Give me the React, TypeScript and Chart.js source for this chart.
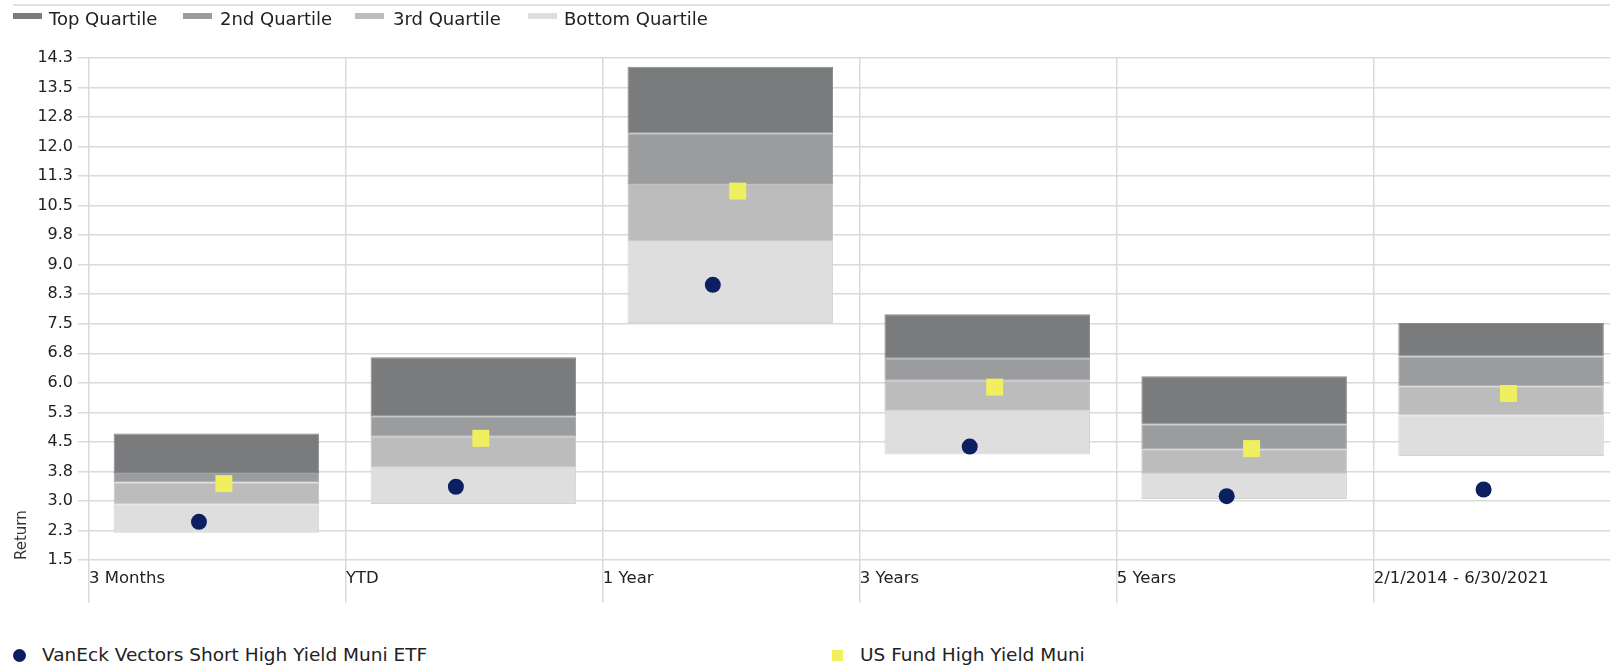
import React, { useEffect, useRef } from 'react';
import { Chart, registerables } from 'chart.js';

Chart.register(...registerables);

// ---- data ----
const categories = ['3 Months', 'YTD', '1 Year', '3 Years', '5 Years', '2/1/2014 - 6/30/2021'];
const quartileMin = [2.19, 2.92, 7.52, 4.18, 3.05, 4.14];
const quartile25 = [2.91, 3.84, 9.58, 5.31, 3.71, 5.17];
const quartileMedian = [3.47, 4.63, 11.05, 6.05, 4.31, 5.91];
const quartile75 = [3.71, 5.15, 12.34, 6.61, 4.94, 6.67];
const quartileMax = [4.71, 6.65, 14.03, 7.74, 6.17, 7.52];
const etfReturns = [2.47, 3.36, 8.49, 4.38, 3.12, 3.29];
const categoryReturns = [3.44, 4.59, 10.87, 5.89, 4.33, 5.73];
const yTickValues = [1.5, 2.25, 3, 3.75, 4.5, 5.25, 6, 6.75, 7.5, 8.25, 9, 9.75, 10.5, 11.25, 12, 12.75, 13.5, 14.25];
const yTickLabels = ['1.5', '2.3', '3.0', '3.8', '4.5', '5.3', '6.0', '6.8', '7.5', '8.3', '9.0', '9.8', '10.5', '11.3', '12.0', '12.8', '13.5', '14.3'];
const quartileNames = ['Top Quartile', '2nd Quartile', '3rd Quartile', 'Bottom Quartile'];
const etfName = 'VanEck Vectors Short High Yield Muni ETF';
const categoryName = 'US Fund High Yield Muni';
const yTitle = 'Return';

// ---- styles ----
const quartileColors = ['#7a7b7d', '#9b9c9e', '#bcbcbc', '#dedede'];
const quartileBorders = ['#87888a', '#a3a4a6', '#c3c3c3', '#d3d3d3'];
const dotColor = '#0b1f61';
const squareColor = '#f0ef5f';
const gridColor = '#dadada';
const textColor = '#222222';
const FONT = '"DejaVu Sans", Verdana, sans-serif';
const CANVAS_W = 1610;
const CANVAS_H = 620;
const X_MAX = 5.92;
const BAR_CENTER = 0.496;
const DOT_CENTER = 0.428;
const SQUARE_CENTER = 0.525;
const topLegendBoxX = [13, 183, 355, 528];
const topLegendTextX = [49, 220, 393, 564];

export default function App() {
  const ref = useRef<HTMLCanvasElement>(null);

  useEffect(() => {
    const canvas = ref.current;
    if (!canvas) return;
    const ranges = [
      [quartile75, quartileMax],
      [quartileMedian, quartile75],
      [quartile25, quartileMedian],
      [quartileMin, quartile25],
    ];
    const barDatasets: any[] = quartileNames.map((name, k) => ({
      type: 'bar',
      label: name,
      data: categories.map((_, i) => ({ x: i + BAR_CENTER, y: [ranges[k][0][i], ranges[k][1][i]] })),
      backgroundColor: quartileColors[k],
      borderColor: quartileBorders[k],
      borderWidth: 1,
      borderSkipped: false,
      grouped: false,
      barPercentage: 0.8,
      categoryPercentage: 1,
      order: 2,
    }));
    const chart = new Chart(canvas, {
      type: 'bar',
      data: {
        datasets: [
          {
            type: 'scatter',
            label: etfName,
            data: etfReturns.map((v, i) => ({ x: i + DOT_CENTER, y: v })),
            pointStyle: 'circle',
            pointRadius: 8,
            pointHoverRadius: 8,
            backgroundColor: dotColor,
            borderWidth: 0,
            order: 0,
          } as any,
          {
            type: 'scatter',
            label: categoryName,
            data: categoryReturns.map((v, i) => ({ x: i + SQUARE_CENTER, y: v })),
            pointStyle: 'rect',
            pointRadius: 12,
            pointHoverRadius: 12,
            backgroundColor: squareColor,
            borderWidth: 0,
            order: 1,
          } as any,
          ...barDatasets,
        ],
      },
      options: {
        animation: false,
        responsive: false,
        maintainAspectRatio: false,
        layout: { autoPadding: false, padding: { top: 58, left: 0, right: 0, bottom: 0 } },
        plugins: { legend: { display: false }, tooltip: { enabled: false } },
        scales: {
          x: {
            type: 'linear',
            min: 0,
            max: X_MAX,
            offset: false,
            grid: { color: gridColor, lineWidth: 1.5, tickLength: 43, drawTicks: true, offset: false },
            border: { display: false },
            ticks: {
              align: 'start',
              maxRotation: 0,
              minRotation: 0,
              autoSkip: false,
              includeBounds: false,
              padding: -34,
              color: textColor,
              font: { family: FONT, size: 16.5 },
              callback: (_v: any, i: number) => categories[i] ?? '',
            },
            afterBuildTicks: (s: any) => {
              s.ticks = categories.map((_, i) => ({ value: i }));
            },
            afterFit: (s: any) => {
              s.height = 60;
              s.paddingLeft = 0;
              s.paddingRight = 0;
            },
          } as any,
          y: {
            type: 'linear',
            min: yTickValues[0],
            max: yTickValues[yTickValues.length - 1],
            grid: { color: gridColor, lineWidth: 1.5, tickLength: 11, drawTicks: true },
            border: { display: false },
            ticks: {
              padding: 5,
              color: textColor,
              font: { family: FONT, size: 16 },
              callback: (_v: any, i: number) => yTickLabels[i] ?? '',
            },
            afterBuildTicks: (s: any) => {
              s.ticks = yTickValues.map((v) => ({ value: v }));
            },
            afterFit: (s: any) => {
              s.width = 89;
              s.paddingLeft = 0;
              s.paddingRight = 0;
            },
            title: {
              display: true,
              text: yTitle,
              align: 'start',
              color: '#333333',
              font: { family: FONT, size: 15 },
              padding: { top: 13, bottom: 0 },
            },
          } as any,
        },
      },
    });
    return () => chart.destroy();
  }, []);

  return (
    <div
      style={{
        position: 'absolute',
        left: 0,
        top: 0,
        width: 1610,
        height: 665,
        overflow: 'hidden',
        background: '#ffffff',
        fontFamily: FONT,
        color: textColor,
      }}
    >
      <canvas
        ref={ref}
        width={CANVAS_W}
        height={CANVAS_H}
        style={{ position: 'absolute', left: 0, top: 0, width: CANVAS_W, height: CANVAS_H }}
      />
      <div style={{ position: 'absolute', left: 13, right: 0, top: 4, height: 2, background: '#e2e2e2' }} />
      {quartileNames.map((name, k) => (
        <React.Fragment key={name}>
          <div
            style={{
              position: 'absolute',
              left: topLegendBoxX[k],
              top: 13,
              width: 29,
              height: 6,
              background: quartileColors[k],
            }}
          />
          <div
            style={{
              position: 'absolute',
              left: topLegendTextX[k],
              top: 8,
              fontSize: 18,
              lineHeight: '21px',
              whiteSpace: 'nowrap',
            }}
          >
            {name}
          </div>
        </React.Fragment>
      ))}
      <div
        style={{
          position: 'absolute',
          left: 13,
          top: 649,
          width: 13,
          height: 13,
          borderRadius: '50%',
          background: dotColor,
        }}
      />
      <div
        style={{ position: 'absolute', left: 42, top: 644, fontSize: 18.5, lineHeight: '22px', whiteSpace: 'nowrap' }}
      >
        {etfName}
      </div>
      <div
        style={{ position: 'absolute', left: 832, top: 650, width: 11, height: 11, background: squareColor }}
      />
      <div
        style={{ position: 'absolute', left: 860, top: 644, fontSize: 18.5, lineHeight: '22px', whiteSpace: 'nowrap' }}
      >
        {categoryName}
      </div>
    </div>
  );
}
